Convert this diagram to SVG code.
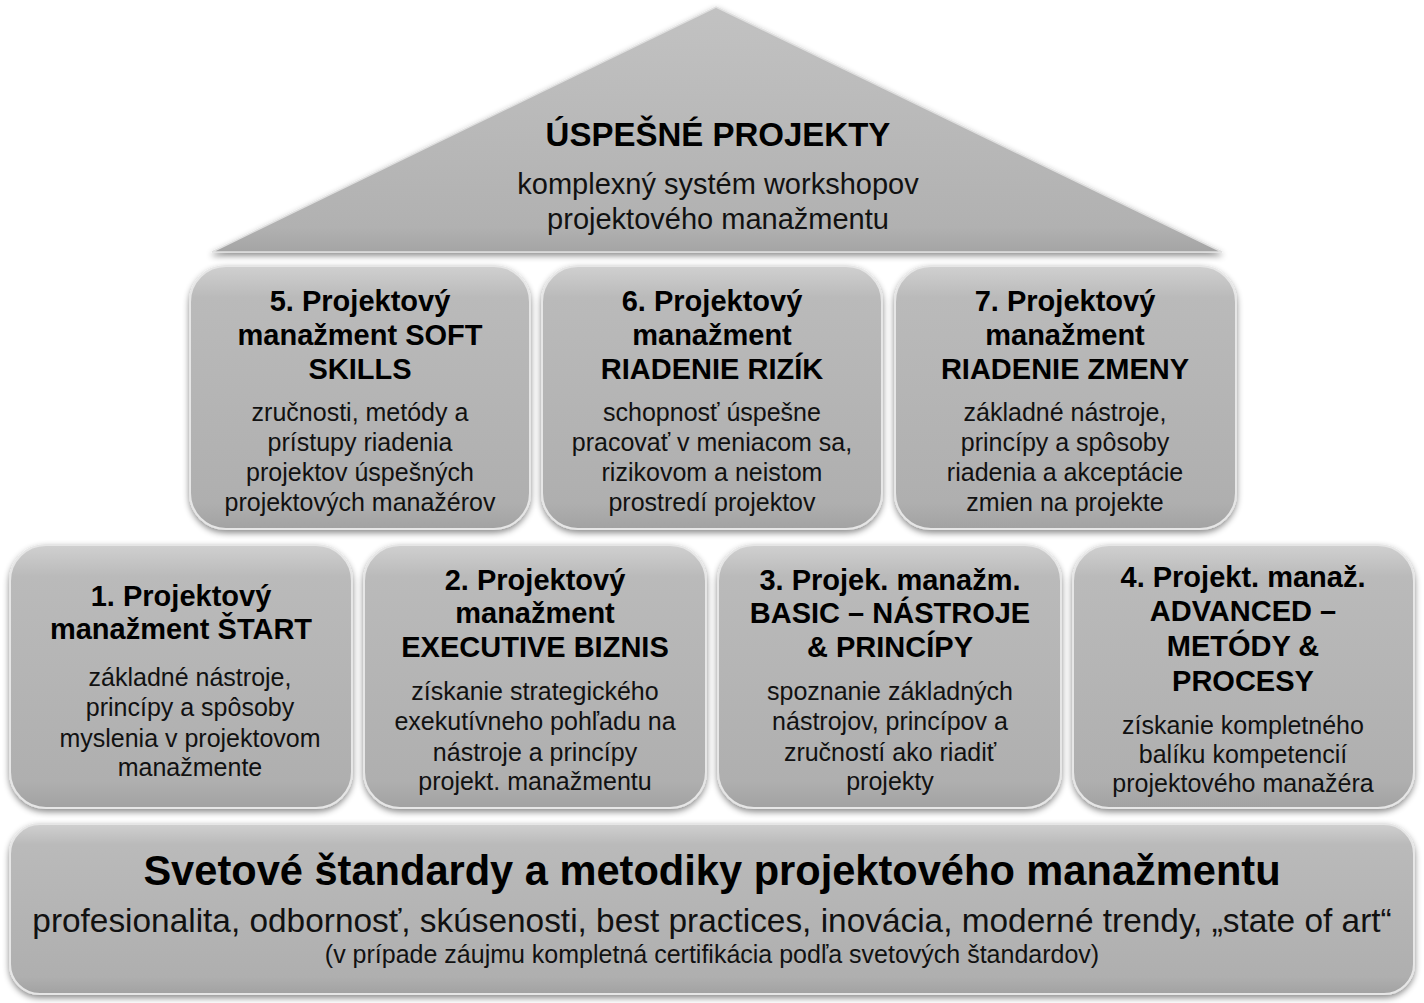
<svg xmlns="http://www.w3.org/2000/svg" width="1424" height="1003" viewBox="0 0 1424 1003">
<defs>
  <linearGradient id="g" x1="0" y1="0" x2="0" y2="1">
    <stop offset="0" stop-color="#d0d0d0"/>
    <stop offset="0.12" stop-color="#bababa"/>
    <stop offset="0.9" stop-color="#afafaf"/>
    <stop offset="1" stop-color="#a2a2a2"/>
  </linearGradient>
  <linearGradient id="gr" x1="0" y1="0" x2="0" y2="1">
    <stop offset="0" stop-color="#c2c2c2"/>
    <stop offset="0.9" stop-color="#b1b1b1"/>
    <stop offset="1" stop-color="#a4a4a4"/>
  </linearGradient>
  <filter id="sh" x="-10%" y="-10%" width="120%" height="130%">
    <feDropShadow dx="0" dy="3" stdDeviation="3" flood-color="#000" flood-opacity="0.45"/>
  </filter>
</defs>
<style>
  .box{fill:url(#g);stroke:#e6e6e6;stroke-width:2;filter:url(#sh)}
  .roof{fill:url(#gr);stroke:#e0e0e0;stroke-width:1.5;filter:url(#sh)}
  text{font-family:"Liberation Sans",Arial,sans-serif;fill:#000;text-anchor:middle}
  .t{font-weight:bold;font-size:29px}
  .d{font-size:25px;fill:#111}
</style>
<rect width="1424" height="1003" fill="#fff"/>

<g id="roof">
  <polygon class="roof" points="716,7 1222,252 212,252"/>
  <text x="718" y="146" style="font-weight:bold;font-size:33px">ÚSPEŠNÉ PROJEKTY</text>
  <text x="718" y="194" style="font-size:29px;fill:#111">komplexný systém workshopov</text>
  <text x="718" y="229" style="font-size:29px;fill:#111">projektového manažmentu</text>
</g>

<g id="box5">
  <rect class="box" x="190" y="266" width="340" height="263" rx="36"/>
  <text class="t" x="360" y="311">5. Projektový</text>
  <text class="t" x="360" y="345">manažment SOFT</text>
  <text class="t" x="360" y="379">SKILLS</text>
  <text class="d" x="360" y="421">zručnosti, metódy a</text>
  <text class="d" x="360" y="451">prístupy riadenia</text>
  <text class="d" x="360" y="481">projektov úspešných</text>
  <text class="d" x="360" y="511">projektových manažérov</text>
</g>

<g id="box6">
  <rect class="box" x="542" y="266" width="340" height="263" rx="36"/>
  <text class="t" x="712" y="311">6. Projektový</text>
  <text class="t" x="712" y="345">manažment</text>
  <text class="t" x="712" y="379">RIADENIE RIZÍK</text>
  <text class="d" x="712" y="421">schopnosť úspešne</text>
  <text class="d" x="712" y="451">pracovať v meniacom sa,</text>
  <text class="d" x="712" y="481">rizikovom a neistom</text>
  <text class="d" x="712" y="511">prostredí projektov</text>
</g>

<g id="box7">
  <rect class="box" x="895" y="266" width="341" height="263" rx="36"/>
  <text class="t" x="1065" y="311">7. Projektový</text>
  <text class="t" x="1065" y="345">manažment</text>
  <text class="t" x="1065" y="379">RIADENIE ZMENY</text>
  <text class="d" x="1065" y="421">základné nástroje,</text>
  <text class="d" x="1065" y="451">princípy a spôsoby</text>
  <text class="d" x="1065" y="481">riadenia a akceptácie</text>
  <text class="d" x="1065" y="511">zmien na projekte</text>
</g>

<g id="box1">
  <rect class="box" x="10" y="545" width="342" height="263" rx="36"/>
  <text class="t" x="181" y="606">1. Projektový</text>
  <text class="t" x="181" y="639">manažment ŠTART</text>
  <text class="d" x="190" y="686">základné nástroje,</text>
  <text class="d" x="190" y="716">princípy a spôsoby</text>
  <text class="d" x="190" y="747">myslenia v projektovom</text>
  <text class="d" x="190" y="776">manažmente</text>
</g>

<g id="box2">
  <rect class="box" x="364" y="545" width="342" height="263" rx="36"/>
  <text class="t" x="535" y="590">2. Projektový</text>
  <text class="t" x="535" y="623">manažment</text>
  <text class="t" x="535" y="657">EXECUTIVE BIZNIS</text>
  <text class="d" x="535" y="700">získanie strategického</text>
  <text class="d" x="535" y="730">exekutívneho pohľadu na</text>
  <text class="d" x="535" y="761">nástroje a princípy</text>
  <text class="d" x="535" y="790">projekt. manažmentu</text>
</g>

<g id="box3">
  <rect class="box" x="718" y="545" width="343" height="263" rx="36"/>
  <text class="t" x="890" y="590">3. Projek. manažm.</text>
  <text class="t" x="890" y="623">BASIC – NÁSTROJE</text>
  <text class="t" x="890" y="657">&amp; PRINCÍPY</text>
  <text class="d" x="890" y="700">spoznanie základných</text>
  <text class="d" x="890" y="730">nástrojov, princípov a</text>
  <text class="d" x="890" y="761">zručností ako riadiť</text>
  <text class="d" x="890" y="790">projekty</text>
</g>

<g id="box4">
  <rect class="box" x="1073" y="545" width="341" height="263" rx="36"/>
  <text class="t" x="1243" y="587">4. Projekt. manaž.</text>
  <text class="t" x="1243" y="621">ADVANCED –</text>
  <text class="t" x="1243" y="656">METÓDY &amp;</text>
  <text class="t" x="1243" y="691">PROCESY</text>
  <text class="d" x="1243" y="734">získanie kompletného</text>
  <text class="d" x="1243" y="763">balíku kompetencií</text>
  <text class="d" x="1243" y="792">projektového manažéra</text>
</g>

<g id="base">
  <rect class="box" x="10" y="824" width="1404" height="170" rx="30"/>
  <text x="712" y="885" style="font-weight:bold;font-size:41.6px">Svetové štandardy a metodiky projektového manažmentu</text>
  <text x="712" y="932" style="font-size:33.4px;fill:#111">profesionalita, odbornosť, skúsenosti, best practices, inovácia, moderné trendy, „state of art“</text>
  <text x="712" y="963" style="font-size:25px;fill:#111">(v prípade záujmu kompletná certifikácia podľa svetových štandardov)</text>
</g>

<g id="connectors"></g>
</svg>
